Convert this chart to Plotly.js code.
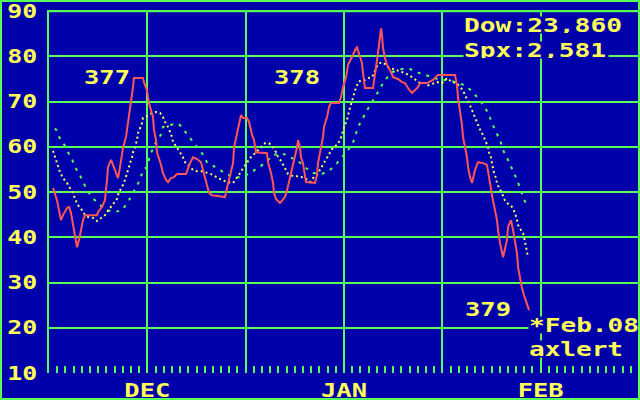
<!DOCTYPE html>
<html><head><meta charset="utf-8">
<script src="https://cdn.plot.ly/plotly-3.0.1.min.js"></script>
<style>
html,body{margin:0;padding:0;background:#0000AA;}
#wrap{position:relative;width:640px;height:400px;overflow:hidden;}
#chart{position:absolute;left:0;top:0;width:640px;height:400px;}
#frame{position:absolute;left:0;top:0;width:640px;height:400px;box-sizing:border-box;border:2px solid #55FF55;pointer-events:none;}
</style></head><body>
<div id="wrap"><div id="chart"></div><div id="frame"></div></div>
<script>
// ---- data (x = trading-day index, y = indicator value) ----
var redDay = [0.49,0.98,1.46,1.71,2.20,2.44,2.68,2.93,3.17,3.42,3.66,3.91,4.15,4.39,5.86,5.98,6.47,6.83,6.96,7.08,7.20,7.57,7.81,8.18,8.42,8.54,8.79,9.03,9.40,9.64,9.89,10.13,10.25,10.37,11.47,11.59,11.96,12.08,12.20,12.45,12.69,12.81,13.06,13.18,13.42,13.67,13.91,14.28,14.52,14.89,15.25,15.62,16.72,16.96,17.21,17.57,18.06,18.55,18.92,19.28,19.53,19.89,21.48,21.72,22.09,22.46,22.58,22.94,23.19,23.43,23.68,24.16,24.41,24.77,25.02,25.26,26.60,26.73,27.09,27.34,27.46,27.70,28.19,28.80,29.05,29.29,29.66,29.90,30.27,30.39,30.63,30.75,31.00,31.12,31.36,32.46,32.71,32.83,33.19,33.44,33.56,33.93,34.17,34.41,35.39,35.64,35.88,36.25,36.49,36.86,37.10,37.47,37.59,37.83,38.20,38.32,38.56,39.54,39.66,39.91,40.15,40.40,40.52,40.64,40.76,41.01,41.25,41.74,41.98,42.59,43.08,43.45,43.81,44.30,44.67,45.03,45.28,46.13,46.86,47.47,49.55,49.79,49.91,50.16,50.40,50.52,50.77,51.01,51.14,51.38,51.62,51.75,51.99,52.36,52.97,53.45,53.58,53.82,54.06,54.19,54.43,54.67,54.80,55.04,55.41,55.65,55.89,56.02,56.38,56.63,56.87,57.11,57.24,57.48,57.72,57.97,58.33,58.58];
var redVal = [50.9,48.2,43.8,44.9,46.5,46.7,45.4,43.1,40.5,37.8,39.4,41.6,43.8,44.9,44.9,45.6,46.7,48.2,50.0,52.7,55.5,57.1,56.0,54.4,53.1,54.2,56.6,59.7,62.2,65.2,68.1,70.8,73.2,75.2,75.2,74.3,72.5,71.0,69.7,68.1,66.6,63.7,61.5,58.8,57.5,56.0,54.2,52.7,52.2,53.1,53.3,54.0,54.0,55.3,56.4,57.7,57.3,56.6,54.2,51.8,49.8,49.3,48.9,50.9,53.8,56.4,59.9,63.0,65.2,67.0,66.4,66.4,65.5,62.7,61.5,58.8,58.6,56.6,54.2,52.0,49.8,48.5,47.6,48.9,50.4,52.2,54.9,57.1,59.9,61.5,59.9,57.7,56.4,54.9,52.2,52.0,53.8,56.4,59.9,62.2,64.4,66.6,68.8,69.7,69.7,71.0,73.2,75.4,78.1,79.6,80.7,81.8,82.0,80.7,78.5,76.3,73.0,73.0,74.8,77.6,80.7,84.3,86.2,84.7,81.8,79.6,78.1,76.5,75.4,75.0,74.3,74.1,73.0,71.9,72.5,73.2,74.1,74.1,74.8,75.9,75.9,73.6,71.0,68.1,64.8,62.2,59.9,57.7,55.5,53.3,52.0,53.3,54.9,56.6,56.4,56.0,54.2,52.0,49.3,48.2,46.0,43.8,41.6,38.7,35.6,37.2,39.4,42.3,43.8,41.6,39.4,36.5,33.4,31.0,28.8,27.2,25.5,23.9];

var yelDay = [0.49,0.73,0.98,1.10,1.34,1.71,2.20,2.56,2.93,3.17,3.54,4.03,4.39,4.76,5.37,5.86,6.47,6.83,7.08,8.30,8.54,8.91,9.28,9.52,9.64,9.89,10.13,10.25,10.50,10.74,10.86,11.11,11.35,11.47,11.96,12.57,13.06,13.55,13.91,14.16,14.52,14.77,15.01,15.13,15.62,15.99,16.35,16.60,16.96,17.57,18.06,18.67,19.40,20.01,20.62,21.11,21.72,22.46,22.94,23.31,23.68,24.16,24.41,24.90,25.75,26.36,26.85,27.34,27.70,27.95,28.31,28.56,28.92,29.17,29.78,30.27,30.88,31.36,31.85,32.22,32.71,33.19,33.56,33.93,34.29,34.66,35.15,35.51,35.76,35.88,36.12,36.37,36.49,36.73,36.98,37.10,37.35,37.59,37.71,38.20,38.56,38.93,39.42,39.66,39.91,40.15,40.64,41.01,41.37,42.23,43.45,44.30,45.28,45.89,46.25,46.74,47.35,47.96,48.57,49.18,49.79,50.16,50.52,50.77,51.01,51.26,51.62,51.87,52.11,52.23,52.48,52.72,52.97,53.21,53.58,53.70,53.94,54.06,54.19,54.31,54.55,54.67,54.92,55.28,55.53,55.77,56.50,56.87,57.11,57.24,57.60,57.85,58.09,58.33,58.46];
var yelVal = [59.1,57.7,56.6,55.5,54.4,53.1,52.0,50.9,49.8,48.5,47.1,46.0,44.9,44.5,44.3,43.6,44.3,44.9,45.6,48.5,50.0,51.1,52.7,54.2,55.3,56.4,57.7,58.8,59.9,61.5,63.0,64.1,65.2,66.4,66.8,67.5,67.7,67.5,66.6,65.5,64.4,63.3,62.2,61.1,59.9,58.8,57.7,56.6,56.0,54.9,54.6,54.6,54.2,53.8,53.1,52.7,52.2,52.0,53.1,54.2,55.3,56.4,57.3,58.2,59.9,60.8,60.8,59.9,58.8,57.7,56.9,56.0,54.9,54.0,53.5,53.5,53.3,52.9,52.2,53.1,53.8,55.3,56.4,57.5,58.6,59.9,60.4,61.5,62.6,63.7,64.8,65.9,67.0,68.6,70.3,71.4,72.5,73.6,74.3,74.8,74.8,75.2,75.4,76.3,77.4,78.3,78.7,78.3,77.6,77.0,76.3,75.4,74.1,74.1,73.6,73.9,74.3,74.1,75.2,74.3,74.1,73.2,72.5,71.4,70.6,69.7,68.1,67.0,66.1,65.2,64.4,63.3,62.6,61.5,59.9,58.8,57.7,56.4,55.3,54.2,53.1,52.0,50.9,49.8,48.5,47.8,46.7,45.4,43.8,42.7,41.6,40.9,39.0,37.2,35.6];

var grnDay = [0.73,0.98,1.22,1.71,1.95,2.32,2.81,3.17,3.66,4.15,4.64,4.88,5.86,6.22,7.08,8.05,8.91,9.64,10.25,10.50,11.11,11.47,11.96,12.33,12.69,13.18,13.79,13.91,14.77,15.62,15.99,16.60,17.21,17.57,18.18,18.67,19.28,19.65,20.50,21.48,22.46,23.55,24.53,25.38,26.36,27.34,28.44,29.41,30.39,31.24,32.22,33.32,34.29,35.15,36.00,36.98,37.35,37.71,38.32,38.81,39.79,40.40,41.01,41.86,43.08,44.06,44.91,45.89,46.86,47.72,48.69,49.79,50.77,51.75,52.60,53.21,53.82,54.43,55.04,55.41,56.02,56.50,57.11,57.48,57.85,58.33];
var grnVal = [64.1,63.5,62.2,60.8,60.2,58.8,57.3,55.5,54.2,52.2,50.4,49.8,47.6,47.1,46.0,45.6,46.0,47.8,49.8,50.9,52.7,54.9,55.5,58.2,59.7,61.5,63.0,64.4,64.8,65.2,64.8,63.3,61.9,61.1,59.7,58.6,56.6,56.2,55.1,54.2,53.3,53.3,54.2,55.3,56.4,58.2,58.6,57.7,56.9,55.5,54.2,54.0,54.9,56.4,58.2,60.4,62.2,64.4,66.4,68.1,71.0,73.0,74.8,76.5,77.2,77.2,76.5,75.9,75.4,74.8,74.8,74.1,73.6,72.1,70.3,68.8,66.4,63.7,61.5,59.3,57.1,55.3,52.7,50.9,48.9,46.9];

var yTicks = [10,20,30,40,50,60,70,80,90];
var yTickText = ['10','20','30','40','50','60','70','80','90'];
var monthTicks = [12,24,36,48,60];
var monthText = ['DEC','','JAN','','FEB'];

var cycleLabels = ['377','378','379'];
var cycleDay = [4.03,27.2,50.5];
var cycleVal = [75.4,75.4,24.1];

var infoLines = ['Dow:23,860','Spx:2,581','*Feb.08','axlert'];
var infoDay = [50.5,50.5,58.46,58.46];
var infoVal = [86.9,81.5,20.6,15.2];

// ---- styling ----
var BLUE='#0000AA', GREEN='#55FF55', YELLOW='#FFFF55', RED='#FF5555';
var FONT={family:'DejaVu Sans Mono', size:19, color:YELLOW, weight:'bold'};
var CELL=16;

var traces=[
 {x:grnDay,y:grnVal,mode:'lines',line:{color:GREEN,width:2,dash:'3px,6px'},hoverinfo:'skip'},
 {x:yelDay,y:yelVal,mode:'lines',line:{color:YELLOW,width:2,dash:'2px,3px'},hoverinfo:'skip'},
 {x:redDay,y:redVal,mode:'lines',line:{color:RED,width:2},hoverinfo:'skip'}
];

var annotations=[];
cycleLabels.forEach(function(t,i){
 annotations.push({x:cycleDay[i],y:cycleVal[i],xref:'x',yref:'y',text:t,showarrow:false,
  xanchor:'left',yanchor:'middle',font:FONT,align:'left'});
});
infoLines.forEach(function(t,i){
 annotations.push({x:infoDay[i],y:infoVal[i],xref:'x',yref:'y',text:t,showarrow:false,
  xanchor:'left',yanchor:'middle',font:FONT,align:'left',bgcolor:BLUE,borderpad:0,
  width:t.length*CELL,height:16});
});

var layout={
 width:640,height:400,
 margin:{l:49,r:1,t:10,b:27,pad:0},
 paper_bgcolor:BLUE,plot_bgcolor:BLUE,
 showlegend:false,
 font:FONT,
 xaxis:{range:[0,72],tickvals:monthTicks,ticktext:monthText,showgrid:true,gridcolor:GREEN,gridwidth:2,
   zeroline:false,showline:false,ticks:'inside',ticklen:7,tickwidth:2,tickcolor:GREEN,
   minor:{dtick:1,tick0:0,ticks:'inside',ticklen:7,tickwidth:2,tickcolor:GREEN,showgrid:false},
   tickfont:FONT,ticklabelstandoff:4,ticklabeloverflow:'allow',fixedrange:true},
 yaxis:{range:[10,90.25],tickvals:yTicks,ticktext:yTickText,showgrid:true,gridcolor:GREEN,gridwidth:2,
   zeroline:false,showline:true,mirror:true,linecolor:GREEN,linewidth:2,ticks:'',
   tickfont:FONT,ticklabelstandoff:6,ticklabeloverflow:'allow',fixedrange:true},
 shapes:[{type:'line',xref:'paper',yref:'y',x0:0,x1:1,y0:90,y1:90,line:{color:GREEN,width:2},layer:'above'}],
 annotations:annotations
};

Plotly.newPlot('chart',traces,layout,{staticPlot:true,displayModeBar:false}).then(function(gd){
 gd.querySelectorAll('.ytick text, .xtick text, .annotation-text').forEach(function(t){
  var s=t.textContent; if(!s) return;
  t.setAttribute('textLength', s.length*CELL-2);
  t.setAttribute('lengthAdjust','spacingAndGlyphs');
 });
});
</script>
</body></html>
